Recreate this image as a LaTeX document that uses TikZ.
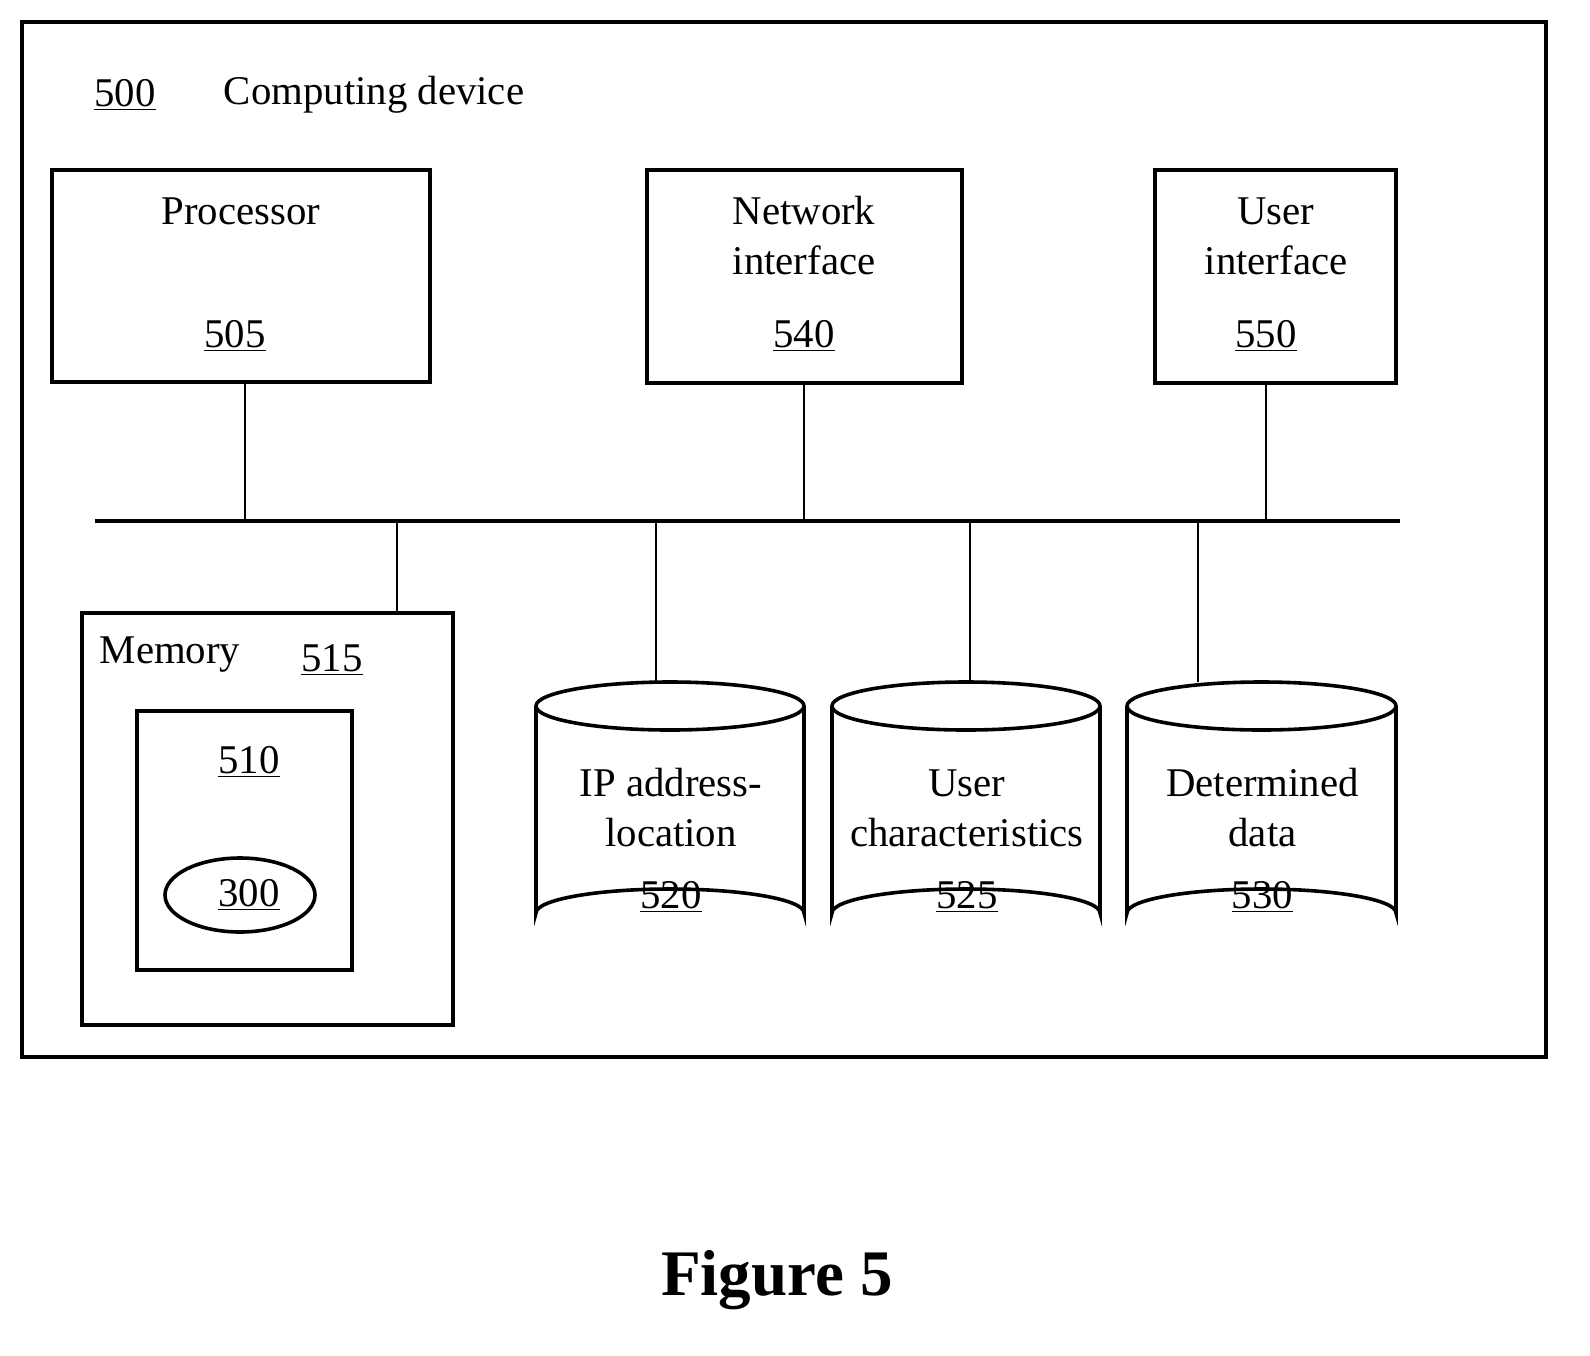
\documentclass[tikz,border=0pt]{standalone}
\usepackage{fontspec}
\setmainfont{Liberation Serif}
\begin{document}
\begin{tikzpicture}[x=0.5pt,y=-0.5pt,line width=1.4pt,
  box/.style={draw,line width=1.8pt},
  lbl/.style={font=\fontsize{20.4}{25}\selectfont,align=center,inner sep=0pt},
  cyl/.style={draw,line width=1.8pt}]
\useasboundingbox (0,0) rectangle (1590,1355);
\draw[box] (22,22) rectangle (1546,1057);
\node[lbl] (n500) at (125,95) {\underline{500}};
\node[lbl] (cd) at (374,95) {Computing device};
% top boxes
\draw[box] (52,170) rectangle (430,382); \coordinate (p) at (245,382);
\node[lbl] at (241,211) {Processor}; \node[lbl] at (235,336) {\underline{505}};
\draw[box] (647,170) rectangle (962,383); \coordinate (ni) at (804,383);
\node[lbl] at (804,236) {Network\\interface}; \node[lbl] at (804,336) {\underline{540}};
\draw[box] (1155,170) rectangle (1396,383); \coordinate (ui) at (1266,383);
\node[lbl] at (1276,236) {User\\interface}; \node[lbl] at (1266,336) {\underline{550}};
% bus
\coordinate (bl) at (95,521); \coordinate (br) at (1400,521);
\draw[line width=2.2pt] (bl) -- (br);
\foreach \x/\c in {245/p,804/ni,1266/ui} \draw (\c) -- (\x,521);
% memory
\draw[box] (82,613) rectangle (453,1025); \coordinate (mem) at (397,613);
\draw (397,521) -- (mem);
\node[lbl] at (170,655) {Memory}; \node[lbl] at (332,660) {\underline{515}};
\draw[box] (137,711) rectangle (352,970);
\node[lbl] at (249,762) {\underline{510}};
\draw[line width=1.8pt] (240,895) ellipse [x radius=75,y radius=37];
\node[lbl] at (249,895) {\underline{300}};
% cylinders
\foreach \a/\b/\cx/\t/\n in {536/804/656/{IP address-\\location}/520, 832/1100/970/{User\\characteristics}/525, 1127/1396/1198/{Determined\\data}/530}{
  \pgfmathsetmacro\m{(\a+\b)/2}
  \pgfmathsetmacro\r{(\b-\a)/2}
  \draw[cyl] (\a,706) -- (\a,913) arc[start angle=180,end angle=360,x radius=\r,y radius=24] -- (\b,706);
  \draw[cyl] (\m,706) ellipse [x radius=\r,y radius=24];
  \draw (\cx,521) -- (\cx,682);
  \node[lbl] at (\m+1,808) {\t};
  \node[lbl] at (\m+1,897) {\underline{\n}};
}
\node[font=\fontsize{32.5}{38}\selectfont\bfseries] (fig) at (777,1280) {Figure 5};
\end{tikzpicture}
\end{document}
